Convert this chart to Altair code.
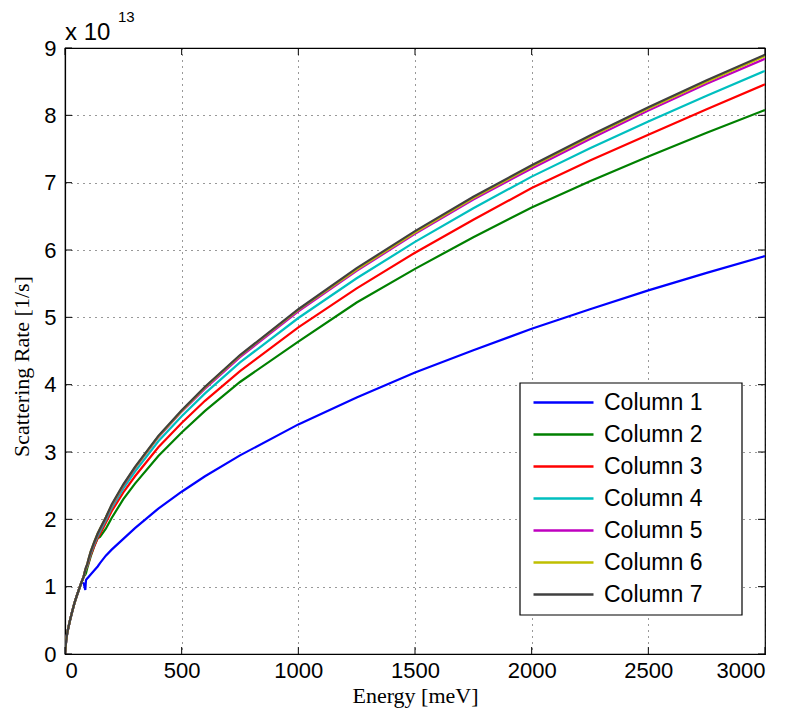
import altair as alt
import pandas as pd

energy = [0, 5, 10, 20, 30, 40, 50, 60, 70, 80, 87, 90, 95, 100, 110, 125, 140, 150, 175, 200,
          250, 300, 400, 500, 600, 750, 1000, 1250, 1500, 1750, 2000, 2250, 2500, 2750, 3000]

low = [0.0, 0.2, 0.32, 0.48, 0.62, 0.75, 0.86, 0.96, 1.06]

col1 = low + [1.05, 0.95, 1.10, 1.12, 1.14, 1.18, 1.24, 1.30, 1.35, 1.46, 1.55,
              1.71, 1.87, 2.16, 2.41, 2.64, 2.95, 3.41, 3.81, 4.18, 4.51, 4.83, 5.12, 5.40, 5.66, 5.91]
col2 = low + [1.15, 1.18, 1.20, 1.27, 1.33, 1.45, 1.60, 1.72, 1.74, 1.86, 2.02,
              2.30, 2.53, 2.94, 3.29, 3.61, 4.04, 4.64, 5.22, 5.72, 6.19, 6.63, 7.02, 7.39, 7.74, 8.08]
col3 = low + [1.15, 1.24, 1.26, 1.30, 1.35, 1.47, 1.60, 1.72, 1.78, 1.95, 2.12,
              2.40, 2.64, 3.07, 3.43, 3.76, 4.20, 4.85, 5.43, 5.96, 6.45, 6.92, 7.33, 7.71, 8.09, 8.46]
col4 = low + [1.15, 1.24, 1.27, 1.31, 1.37, 1.49, 1.63, 1.75, 1.82, 1.99, 2.17,
              2.46, 2.71, 3.16, 3.53, 3.87, 4.33, 4.99, 5.58, 6.12, 6.62, 7.09, 7.51, 7.91, 8.29, 8.66]
col5 = low + [1.15, 1.25, 1.28, 1.32, 1.39, 1.51, 1.65, 1.78, 1.85, 2.02, 2.20,
              2.50, 2.76, 3.22, 3.60, 3.94, 4.41, 5.09, 5.69, 6.24, 6.75, 7.21, 7.65, 8.07, 8.47, 8.84]
col6 = low + [1.15, 1.25, 1.28, 1.33, 1.40, 1.52, 1.66, 1.79, 1.86, 2.03, 2.21,
              2.51, 2.77, 3.23, 3.61, 3.96, 4.43, 5.11, 5.71, 6.26, 6.77, 7.24, 7.68, 8.10, 8.50, 8.88]
col7 = low + [1.15, 1.25, 1.29, 1.33, 1.40, 1.52, 1.66, 1.79, 1.86, 2.03, 2.22,
              2.52, 2.78, 3.24, 3.62, 3.97, 4.44, 5.12, 5.73, 6.28, 6.79, 7.26, 7.70, 8.12, 8.52, 8.90]

names = ["Column 1", "Column 2", "Column 3", "Column 4", "Column 5", "Column 6", "Column 7"]
colors = ["#0000FF", "#008000", "#FF0000", "#00BFBF", "#BF00BF", "#BFBF00", "#404040"]
series = [col1, col2, col3, col4, col5, col6, col7]

x_ticks = [0, 500, 1000, 1500, 2000, 2500, 3000]
y_ticks = [0, 1, 2, 3, 4, 5, 6, 7, 8, 9]

rows = []
for i, (n, s) in enumerate(zip(names, series)):
    for e, v in zip(energy, s):
        rows.append({"Energy": e, "Rate": v, "Series": n, "k": i})
df = pd.DataFrame(rows)

W, H = 700, 606
TICK = 7

xscale = alt.Scale(domain=[0, 3000], nice=False, zero=False)
yscale = alt.Scale(domain=[0, 9], nice=False)

lines = alt.Chart(df).mark_line(strokeWidth=2.2, clip=True).encode(
    x=alt.X("Energy:Q", scale=xscale,
            axis=alt.Axis(values=x_ticks, title="Energy [meV]", grid=True, ticks=False,
                          labelPadding=6, titlePadding=4, format="d")),
    y=alt.Y("Rate:Q", scale=yscale,
            axis=alt.Axis(values=y_ticks, title="Scattering Rate [1/s]", grid=True, ticks=False,
                          labelPadding=9, titlePadding=10, titleY=318, format="d")),
    color=alt.Color("Series:N", scale=alt.Scale(domain=names, range=colors),
                    legend=alt.Legend(orient="none", legendX=455, legendY=335, title=None,
                                      symbolType="M-3,0L3,0", symbolSize=400, symbolStrokeWidth=2.5,
                                      symbolOffset=24, labelOffset=29,
                                      labelFont="Liberation Sans", labelFontSize=23, labelLimit=0,
                                      labelColor="black", rowPadding=8, padding=8)),
    order=alt.Order("k:Q"),
)

legend_box = alt.Chart(pd.DataFrame({"a": [0]})).mark_rect(
    fill="white", stroke="black", strokeWidth=1.2
).encode(x=alt.value(455), x2=alt.value(677), y=alt.value(335), y2=alt.value(567))

xt = pd.DataFrame({"v": x_ticks})
yt = pd.DataFrame({"v": y_ticks})
tick_bottom = alt.Chart(xt).mark_rule(color="black", strokeWidth=1).encode(
    x=alt.X("v:Q", scale=xscale), y=alt.value(H - TICK), y2=alt.value(H))
tick_top = alt.Chart(xt).mark_rule(color="black", strokeWidth=1).encode(
    x=alt.X("v:Q", scale=xscale), y=alt.value(0), y2=alt.value(TICK))
tick_left = alt.Chart(yt).mark_rule(color="black", strokeWidth=1).encode(
    y=alt.Y("v:Q", scale=yscale), x=alt.value(0), x2=alt.value(TICK))
tick_right = alt.Chart(yt).mark_rule(color="black", strokeWidth=1).encode(
    y=alt.Y("v:Q", scale=yscale), x=alt.value(W - TICK), x2=alt.value(W))

exp_base = alt.Chart(pd.DataFrame({"t": ["x 10"]})).mark_text(
    font="Liberation Sans", fontSize=24, align="left", baseline="alphabetic", color="black"
).encode(x=alt.value(0), y=alt.value(-8), text="t:N")
exp_sup = alt.Chart(pd.DataFrame({"t": ["13"]})).mark_text(
    font="Liberation Sans", fontSize=15, align="left", baseline="alphabetic", color="black"
).encode(x=alt.value(53), y=alt.value(-26), text="t:N")

chart = alt.layer(lines, legend_box, tick_bottom, tick_top, tick_left, tick_right,
                  exp_base, exp_sup).properties(
    width=W, height=H,
    autosize=alt.AutoSizeParams(type="none"),
    padding={"left": 65, "top": 48, "right": 30, "bottom": 63},
    background="white",
).configure_view(stroke="black", strokeWidth=1.2).configure_axis(
    labelFont="Liberation Sans", labelFontSize=22, labelColor="black",
    titleFont="Liberation Serif", titleFontSize=22, titleFontWeight="normal", titleColor="black",
    gridColor="black", gridDash=[1, 5], gridOpacity=0.8, gridWidth=1,
    domainColor="black", domainWidth=1.2,
)

chart.save("out.html", embed_options={"renderer": "svg", "actions": False})
